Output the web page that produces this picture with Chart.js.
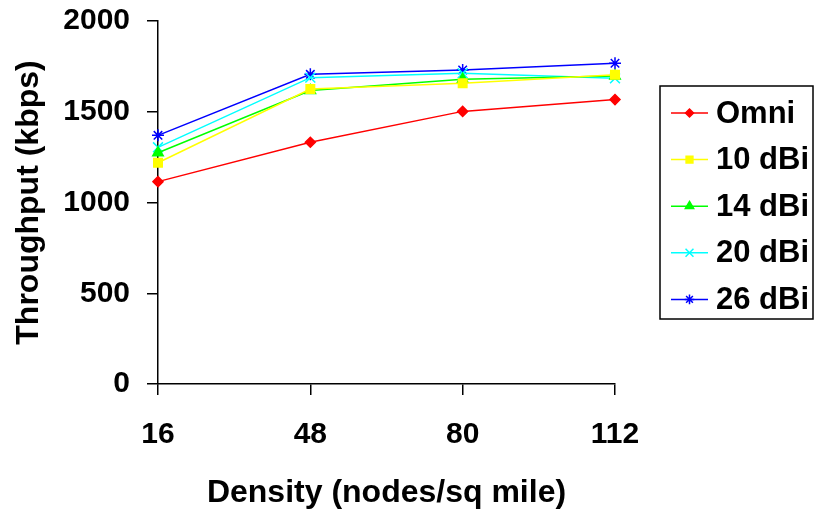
<!DOCTYPE html>
<html>
<head>
<meta charset="utf-8">
<script src="https://cdn.jsdelivr.net/npm/chart.js@4"></script>
<style>
  html, body { margin: 0; padding: 0; background: #fff; }
  #wrap { width: 815px; height: 509px; }
</style>
</head>
<body>
<div id="wrap"><canvas id="chart" width="815" height="509"></canvas></div>
<script>
const densities = ["16", "48", "80", "112"];
const seriesNames = ["Omni", "10 dBi", "14 dBi", "20 dBi", "26 dBi"];
const omni = [1115, 1332, 1502, 1567];
const dbi10 = [1219, 1625, 1657, 1704];
const dbi14 = [1274, 1617, 1679, 1697];
const dbi20 = [1304, 1688, 1712, 1684];
const dbi26 = [1370, 1706, 1730, 1767];
const yTicks = [0, 500, 1000, 1500, 2000];

const fontFamily = "'Liberation Sans', Arial, sans-serif";

const styles = [
    { color: "#ff0000", point: "rectRot", radius: 5 },
    { color: "#ffff00", point: "rect", radius: 6 },
    { color: "#00ff00", point: "triangle", radius: 6 },
    { color: "#00ffff", point: "crossRot", radius: 7 },
    { color: "#0000ff", point: "star", radius: 6 },
];
const allValues = [omni, dbi10, dbi14, dbi20, dbi26];

const datasets = allValues.map(function (vals, i) {
    const s = styles[i];
    return {
        label: seriesNames[i],
        data: vals,
        borderColor: s.color,
        backgroundColor: s.color,
        borderWidth: 1.5,
        pointStyle: s.point,
        pointRadius: s.radius,
        pointBorderWidth: 1.5,
        pointBackgroundColor: s.color,
        pointBorderColor: s.color,
        tension: 0,
    };
});

// legend in a box on the right
const boxLegend = {
    id: "boxLegend",
    afterDraw(chart) {
        const ctx = chart.ctx;
        const left = 660, top = 86, right = 813, bottom = 319;
        ctx.save();
        ctx.strokeStyle = "#000";
        ctx.lineWidth = 1.5;
        ctx.strokeRect(left, top, right - left, bottom - top);
        ctx.font = "bold 31px " + fontFamily;
        ctx.textBaseline = "middle";
        ctx.textAlign = "left";
        chart.data.datasets.forEach(function (ds, i) {
            const y = 113 + i * 46.6;
            ctx.strokeStyle = ds.borderColor;
            ctx.lineWidth = 1.5;
            ctx.beginPath();
            ctx.moveTo(671, y);
            ctx.lineTo(708, y);
            ctx.stroke();
            ctx.fillStyle = ds.pointBackgroundColor;
            ctx.strokeStyle = ds.pointBorderColor;
            Chart.helpers.drawPoint(ctx, {
                pointStyle: ds.pointStyle,
                radius: ds.pointRadius * 0.8,
                borderWidth: 1.5,
                rotation: 0,
            }, 689.5, y);
            ctx.fillStyle = "#000";
            ctx.fillText(ds.label, 716, y + 1);
        });
        ctx.restore();
    },
};

new Chart(document.getElementById("chart"), {
    type: "line",
    data: { labels: densities, datasets: datasets },
    options: {
        responsive: false,
        animation: false,
        devicePixelRatio: 1,
        layout: { padding: { top: 21, right: 200, left: 0, bottom: 0 } },
        plugins: {
            legend: { display: false },
            tooltip: { enabled: false },
        },
        scales: {
            x: {
                type: "category",
                offset: false,
                grid: {
                    drawOnChartArea: false,
                    color: "#000",
                    tickLength: 11,
                    lineWidth: 1.5,
                },
                border: { color: "#000", width: 1.5 },
                ticks: {
                    color: "#000",
                    padding: 22,
                    font: { family: fontFamily, size: 30, weight: "bold" },
                    maxRotation: 0,
                },
                title: {
                    display: true,
                    text: "Density (nodes/sq mile)",
                    color: "#000",
                    font: { family: fontFamily, size: 32, weight: "bold", lineHeight: 0.9 },
                    padding: { top: 0, bottom: 1 },
                },
                afterFit(scale) {
                    scale.height = 125;
                    scale.paddingLeft = 0;
                    scale.paddingRight = 0;
                },
            },
            y: {
                min: 0,
                max: 2000,
                afterBuildTicks(scale) {
                    scale.ticks = yTicks.map(function (v) { return { value: v }; });
                },
                grid: {
                    drawOnChartArea: false,
                    color: "#000",
                    tickLength: 11,
                    lineWidth: 1.5,
                },
                border: { color: "#000", width: 1.5 },
                ticks: {
                    color: "#000",
                    padding: 17,
                    font: { family: fontFamily, size: 30, weight: "bold" },
                    callback: function (v) { return String(v); },
                },
                title: {
                    display: true,
                    text: "Throughput (kbps)",
                    color: "#000",
                    font: { family: fontFamily, size: 32, weight: "bold" },
                    padding: { top: 10, bottom: 0 },
                },
                afterFit(scale) {
                    scale.width = 158;
                    scale.paddingTop = 0;
                    scale.paddingBottom = 0;
                },
            },
        },
    },
    plugins: [boxLegend],
});
</script>
</body>
</html>
